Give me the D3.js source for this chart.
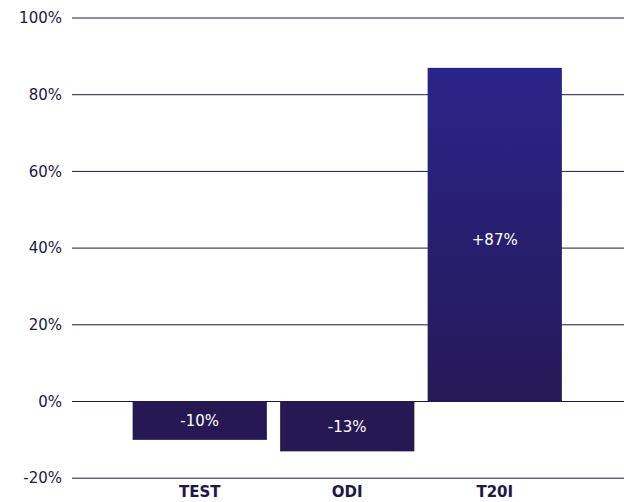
<!DOCTYPE html>
<html><head><meta charset="utf-8">
<script src="https://cdn.jsdelivr.net/npm/d3@7"></script>
<style>body{margin:0;background:#fff}svg{display:block}</style>
</head><body>
<svg id="c" width="624" height="502"></svg>
<script>
const categories = ["TEST", "ODI", "T20I"];
const values = [-10, -13, 87];
const valueLabels = ["-10%", "-13%", "+87%"];
const yTicks = [-20, 0, 20, 40, 60, 80, 100];

const svg = d3.select("#c");
const font = "'DejaVu Sans', sans-serif";
const ink = "#1e1846";

const y = d3.scaleLinear().domain([-20, 100]).range([478.2, 18]);
const x = d3.scaleBand().domain(categories).range([126, 568.5]).paddingInner(0.09).paddingOuter(0.045);

const defs = svg.append("defs");
const g = defs.append("linearGradient").attr("id", "grad").attr("x1", 0).attr("y1", 0).attr("x2", 0).attr("y2", 1);
g.append("stop").attr("offset", "0%").attr("stop-color", "#2a2489");
g.append("stop").attr("offset", "100%").attr("stop-color", "#261957");

// gridlines
svg.append("g").selectAll("line").data(yTicks).join("line")
  .attr("x1", 72).attr("x2", 624)
  .attr("y1", d => y(d)).attr("y2", d => y(d))
  .attr("stroke", ink).attr("stroke-width", 1);

// y labels
svg.append("g").selectAll("text").data(yTicks).join("text")
  .attr("x", 62).attr("y", d => y(d)).attr("dy", "0.35em")
  .attr("text-anchor", "end").attr("font-family", font).attr("font-size", 15)
  .attr("fill", ink).text(d => d + "%");

// bars
svg.append("g").selectAll("rect").data(values).join("rect")
  .attr("x", (d, i) => x(categories[i]))
  .attr("width", x.bandwidth())
  .attr("y", d => y(Math.max(0, d)))
  .attr("height", d => Math.abs(y(d) - y(0)))
  .attr("fill", d => d > 0 ? "url(#grad)" : "#261852");

// value labels
svg.append("g").selectAll("text").data(values).join("text")
  .attr("x", (d, i) => x(categories[i]) + x.bandwidth() / 2)
  .attr("y", d => (y(d) + y(0)) / 2 + (d > 0 ? 5 : 0)).attr("dy", "0.35em")
  .attr("text-anchor", "middle").attr("font-family", font).attr("font-size", 15)
  .attr("fill", "#ffffff").text((d, i) => valueLabels[i]);

// x labels
svg.append("g").selectAll("text").data(categories).join("text")
  .attr("x", d => x(d) + x.bandwidth() / 2).attr("y", 492).attr("dy", "0.35em")
  .attr("text-anchor", "middle").attr("font-family", font).attr("font-size", 15)
  .attr("font-weight", "bold").attr("fill", ink).text(d => d);
</script>
</body></html>
